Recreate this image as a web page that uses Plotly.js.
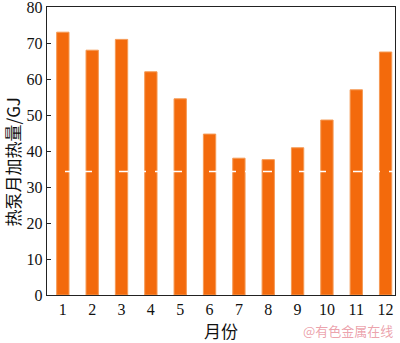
<!DOCTYPE html>
<html>
<head>
<meta charset="utf-8">
<script src="https://cdn.plot.ly/plotly-3.0.1.min.js"></script>
<style>html,body{margin:0;padding:0;background:#fff;}#chart{width:400px;height:343px;}</style>
</head>
<body>
<div id="chart"></div>
<script>
const months = [1,2,3,4,5,6,7,8,9,10,11,12];
const monthLabels = ["1","2","3","4","5","6","7","8","9","10","11","12"];
const heatLoad = [73, 68, 71, 62, 54.5, 44.7, 38, 37.6, 40.9, 48.6, 57, 67.5];
const refLine = 34.3;
const yTicks = [0,10,20,30,40,50,60,70,80];

const trace = {
  type: 'bar',
  x: months,
  y: heatLoad,
  width: 0.42,
  marker: {color: '#f36a0c', line: {color: '#f59a55', width: 1}},
  hoverinfo: 'none'
};

const layout = {
  width: 400, height: 343,
  margin: {l: 47, r: 5, t: 7, b: 48},
  paper_bgcolor: '#fff', plot_bgcolor: '#fff',
  showlegend: false,
  font: {family: 'Liberation Serif, serif', color: '#111'},
  xaxis: {
    range: [0.46, 12.32],
    tickvals: months, ticktext: monthLabels,
    ticks: '', showgrid: false, zeroline: false,
    showline: true, linecolor: '#222', linewidth: 1.2, mirror: true,
    tickfont: {size: 16, family: 'Liberation Serif, serif', color: '#111'},
    title: {text: '月份', font: {size: 17, family: 'Noto Sans CJK SC', color: '#111'}, standoff: 8}
  },
  yaxis: {
    range: [0, 80],
    tickvals: yTicks,
    ticks: 'inside', ticklen: 4, tickcolor: '#222',
    ticklabeloverflow: 'allow',
    showgrid: false, zeroline: false,
    showline: true, linecolor: '#222', linewidth: 1.2, mirror: true,
    tickfont: {size: 16, family: 'Liberation Serif, serif', color: '#111'}
  },
  shapes: [{
    type: 'line', xref: 'paper', x0: 0, x1: 1, yref: 'y', y0: refLine, y1: refLine,
    line: {color: '#ffffff', width: 1.5, dash: 'dash'}, layer: 'above'
  }],
  annotations: [{
    text: '热泵月加热量/GJ', xref: 'paper', yref: 'paper', x: 0, y: 0.46,
    xanchor: 'center', yanchor: 'middle', xshift: -34, textangle: -90, showarrow: false,
    borderpad: 0,
    font: {size: 17, family: 'Noto Sans CJK SC', color: '#111'}
  }, {
    text: '@有色金属在线', xref: 'paper', yref: 'paper', x: 1.0, y: -0.122,
    xanchor: 'right', yanchor: 'middle', showarrow: false,
    font: {size: 13, family: 'Noto Sans CJK SC', color: 'rgba(225,110,125,0.65)'}
  }]
};

Plotly.newPlot('chart', [trace], layout, {displayModeBar: false, staticPlot: true});
</script>
</body>
</html>
